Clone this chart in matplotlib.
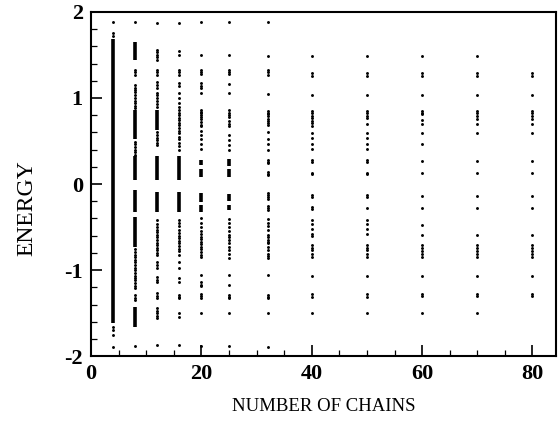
import matplotlib
matplotlib.use("Agg")
import matplotlib.pyplot as plt
from matplotlib.ticker import MultipleLocator

# ---- data: energy levels per number of chains ----
chains = [4, 8, 12, 16, 20, 25, 32, 40, 50, 60, 70, 80]

e4_dots = [1.88, 1.76, 1.72, -1.66, -1.70, -1.75, -1.89]
e4_bands = [(-1.62, 1.68)]

e8_dots = [1.88, 1.33, 1.30, 1.27, 1.15, 1.12, 1.09, 1.07, 1.03, 1.00, 0.97, 0.94,
           0.91, 0.88, 0.49, 0.46, 0.43, 0.40, 0.37, 0.34, -0.76, -0.79, -0.82,
           -0.85, -0.88, -0.91, -0.94, -0.97, -1.00, -1.03, -1.07, -1.09, -1.12,
           -1.15, -1.18, -1.21, -1.29, -1.32, -1.35, -1.88]
e8_bands = [(1.44, 1.65), (0.52, 0.86), (0.05, 0.32), (-0.32, -0.07),
            (-0.73, -0.38), (-1.66, -1.43)]

e12_dots = [1.87, 1.56, 1.53, 1.50, 1.47, 1.44, 1.33, 1.30, 1.27, 1.18, 1.15, 1.12,
            1.06, 1.03, 1.00, 0.97, 0.93, 0.89, 0.60, 0.57, 0.54, 0.51, 0.48, 0.45,
            -0.42, -0.46, -0.50, -0.53, -0.56, -0.59, -0.62, -0.65, -0.68, -0.71,
            -0.74, -0.77, -0.80, -0.83, -0.91, -0.94, -0.97, -1.08, -1.11, -1.14,
            -1.27, -1.30, -1.33, -1.44, -1.47, -1.50, -1.53, -1.56, -1.87]
e12_bands = [(0.63, 0.86), (0.05, 0.32), (-0.32, -0.09)]

e16_dots = [1.87, 1.55, 1.50, 1.33, 1.30, 1.27, 1.17, 1.14, 1.06, 1.00, 0.94, 0.90,
            0.86, 0.83, 0.80, 0.77, 0.74, 0.71, 0.68, 0.65, 0.62, 0.59, 0.55, 0.52,
            0.48, 0.44, 0.40, -0.42, -0.45, -0.49, -0.53, -0.57, -0.60, -0.63,
            -0.66, -0.69, -0.72, -0.75, -0.78, -0.82, -0.91, -0.97, -1.09, -1.14,
            -1.29, -1.31, -1.33, -1.50, -1.55, -1.87]
e16_bands = [(0.05, 0.32), (-0.32, -0.09)]

e20_dots = [1.88, 1.50, 1.33, 1.30, 1.28, 1.17, 1.14, 1.12, 1.06, 0.86, 0.84, 0.82,
            0.80, 0.78, 0.75, 0.72, 0.69, 0.67, 0.62, 0.57, 0.52, 0.47, 0.41,
            -0.40, -0.45, -0.50, -0.55, -0.58, -0.61, -0.64, -0.67, -0.70, -0.73,
            -0.76, -0.79, -0.82, -0.85, -1.06, -1.14, -1.17, -1.19, -1.28, -1.30,
            -1.33, -1.50, -1.88]
e20_bands = [(0.08, 0.17), (0.22, 0.28), (-0.21, -0.11), (-0.32, -0.24)]

e25_dots = [1.88, 1.50, 1.33, 1.30, 1.28, 1.16, 1.06, 0.86, 0.83, 0.80, 0.78, 0.73,
            0.70, 0.67, 0.57, 0.51, 0.45, 0.40, -0.41, -0.45, -0.50, -0.55, -0.59,
            -0.62, -0.65, -0.69, -0.73, -0.77, -0.81, -0.86, -1.06, -1.17, -1.29,
            -1.31, -1.33, -1.50, -1.88]
e25_bands = [(0.08, 0.17), (0.21, 0.29), (-0.20, -0.12), (-0.30, -0.24)]

e32_dots = [1.88, 1.49, 1.33, 1.30, 1.27, 1.045, 0.85, 0.83, 0.81, 0.79, 0.76, 0.73,
            0.71, 0.69, 0.61, 0.52, 0.465, 0.40, 0.28, 0.26, 0.24, 0.14, 0.12, 0.10,
            -0.11, -0.13, -0.15, -0.17, -0.25, -0.28, -0.30, -0.41, -0.45, -0.49,
            -0.535, -0.59, -0.62, -0.65, -0.67, -0.69, -0.73, -0.77, -0.81, -0.84,
            -0.86, -1.06, -1.29, -1.31, -1.33, -1.50, -1.89]
e32_bands = []

e40_dots = [1.49, 1.29, 1.26, 1.04, 0.85, 0.82, 0.795, 0.765, 0.736, 0.705, 0.674,
            0.59, 0.53, 0.47, 0.41, 0.275, 0.26, 0.13, 0.115, -0.13, -0.15, -0.27,
            -0.29, -0.42, -0.465, -0.52, -0.575, -0.605, -0.71, -0.74, -0.77,
            -0.81, -0.845, -1.066, -1.28, -1.31, -1.50]
e40_bands = []

e50_dots = [1.49, 1.29, 1.26, 1.04, 0.85, 0.82, 0.79, 0.77, 0.70, 0.59, 0.53, 0.47,
            0.41, 0.275, 0.26, 0.13, 0.115, -0.13, -0.15, -0.28, -0.42, -0.465,
            -0.52, -0.575, -0.71, -0.74, -0.77, -0.81, -0.845, -1.066, -1.28,
            -1.31, -1.50]
e50_bands = []

e60_dots = [1.49, 1.29, 1.26, 1.04, 0.85, 0.83, 0.81, 0.745, 0.70, 0.59, 0.465,
            0.27, 0.125, -0.14, -0.28, -0.475, -0.59, -0.71, -0.74, -0.78, -0.81,
            -0.85, -1.07, -1.28, -1.30, -1.50]
e60_bands = []

e70_dots = [1.49, 1.29, 1.26, 1.04, 0.85, 0.82, 0.79, 0.75, 0.70, 0.59, 0.27, 0.125,
            -0.14, -0.28, -0.59, -0.71, -0.74, -0.78, -0.81, -0.85, -1.07, -1.28,
            -1.30, -1.50]
e70_bands = []

e80_dots = [1.29, 1.26, 1.04, 0.85, 0.82, 0.79, 0.75, 0.70, 0.59, 0.27, 0.125,
            -0.14, -0.28, -0.59, -0.71, -0.74, -0.78, -0.81, -0.85, -1.07, -1.28,
            -1.30]
e80_bands = []

all_dots = [e4_dots, e8_dots, e12_dots, e16_dots, e20_dots, e25_dots, e32_dots,
            e40_dots, e50_dots, e60_dots, e70_dots, e80_dots]
all_bands = [e4_bands, e8_bands, e12_bands, e16_bands, e20_bands, e25_bands,
             e32_bands, e40_bands, e50_bands, e60_bands, e70_bands, e80_bands]

x_ticks = [0, 20, 40, 60, 80]
y_ticks = [-2, -1, 0, 1, 2]

# ---- figure ----
plt.rcParams['font.family'] = ['Liberation Serif', 'DejaVu Serif']
plt.rcParams['axes.unicode_minus'] = False
fig = plt.figure(figsize=(5.59, 4.24), dpi=100)
ax = fig.add_axes([0.163, 0.160, 0.832, 0.812])

for n, dots, bands in zip(chains, all_dots, all_bands):
    ax.plot([n] * len(dots), dots, 'o', color='black', markersize=2.1,
            markeredgewidth=0)
    for lo, hi in bands:
        ax.vlines(n, lo, hi, color='black', linewidth=2.6)

ax.set_xlim(0, 84.3)
ax.set_ylim(-2, 2)
ax.set_xticks(x_ticks)
ax.set_yticks(y_ticks)
ax.xaxis.set_minor_locator(MultipleLocator(5))
ax.yaxis.set_minor_locator(MultipleLocator(0.2))
ax.tick_params(which='major', direction='in', length=8, width=1.2,
               labelsize=16, pad=6)
ax.tick_params(which='minor', direction='in', length=4, width=0.9)
for lab in ax.get_xticklabels() + ax.get_yticklabels():
    lab.set_fontweight('bold')
for s in ax.spines.values():
    s.set_linewidth(1.5)

ax.set_xlabel('NUMBER OF CHAINS', fontsize=13.5, labelpad=10)
ax.set_ylabel('ENERGY', fontsize=17, labelpad=12)
ax.yaxis.set_label_coords(-0.115, 0.43)

fig.savefig('out.png', dpi=100)
